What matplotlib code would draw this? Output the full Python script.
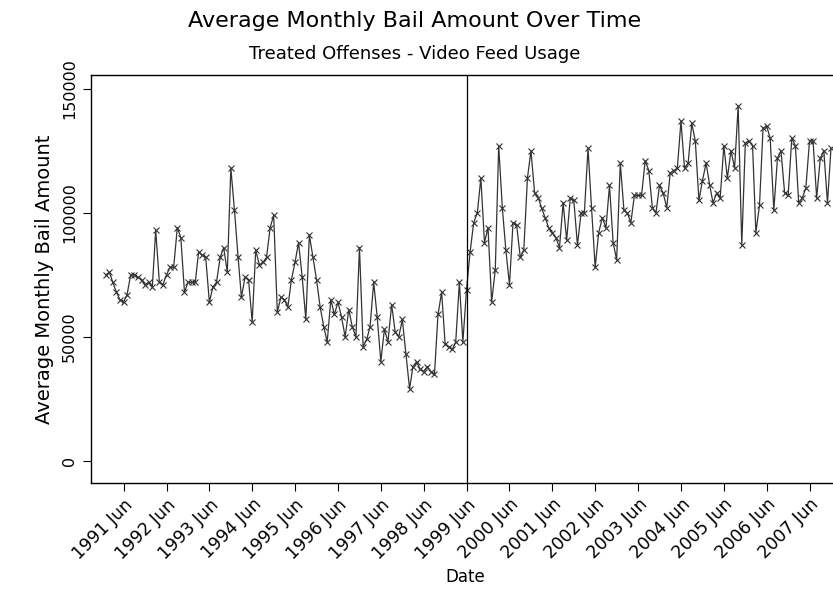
import matplotlib
matplotlib.use("Agg")
import matplotlib.pyplot as plt
import pandas as pd

# monthly averages, Jan 1991 - Dec 2007
bail_1991_1994 = [
    75000, 76000, 72000, 68000, 65000, 64000, 67000, 75000, 75000, 74000, 73000, 71000,
    72000, 70000, 93000, 72000, 71000, 75000, 78000, 78000, 94000, 90000, 68000, 72000,
    72000, 72000, 84000, 83000, 82000, 64000, 70000, 72000, 82000, 86000, 76000, 118000,
    101000, 82000, 66000, 74000, 73000, 56000, 85000, 79000, 80000, 82000, 94000, 99000,
]
bail_1995_1998 = [
    60000, 66000, 65000, 62000, 73000, 80000, 88000, 74000, 57000, 91000, 82000, 73000,
    62000, 54000, 48000, 65000, 59000, 64000, 58000, 50000, 61000, 54000, 50000, 86000,
    46000, 49000, 54000, 72000, 58000, 40000, 53000, 48000, 63000, 52000, 50000, 57000,
    43000, 29000, 38000, 40000, 37000, 36000, 38000, 36000, 35000, 59000, 68000, 47000,
]
bail_1999_2002 = [
    46000, 45000, 48000, 72000, 48000, 69000, 84000, 96000, 100000, 114000, 88000, 94000,
    64000, 77000, 127000, 102000, 85000, 71000, 96000, 95000, 82000, 85000, 114000, 125000,
    108000, 106000, 102000, 98000, 94000, 92000, 90000, 86000, 104000, 89000, 106000, 105000,
    87000, 100000, 100000, 126000, 102000, 78000, 92000, 98000, 94000, 111000, 88000, 81000,
]
bail_2003_2007 = [
    120000, 101000, 100000, 96000, 107000, 107000, 107000, 121000, 117000, 102000, 100000, 111000,
    108000, 102000, 116000, 117000, 118000, 137000, 118000, 120000, 136000, 129000, 105000, 113000,
    120000, 111000, 104000, 108000, 106000, 127000, 114000, 125000, 118000, 143000, 87000, 128000,
    129000, 127000, 92000, 103000, 134000, 135000, 130000, 101000, 122000, 125000, 108000, 107000,
    130000, 127000, 104000, 106000, 110000, 129000, 129000, 106000, 122000, 125000, 104000, 126000,
]
bail = bail_1991_1994 + bail_1995_1998 + bail_1999_2002 + bail_2003_2007
dates = pd.date_range("1991-01-01", periods=len(bail), freq="MS")

tick_years = list(range(1991, 2008))
tick_dates = [pd.Timestamp(y, 6, 1) for y in tick_years]
tick_labels = [f"{y} Jun" for y in tick_years]
treatment_date = pd.Timestamp(1999, 6, 1)

fig = plt.figure(figsize=(8.33, 5.89), dpi=100)
ax = fig.add_axes([0.109, 0.18, 0.9, 0.693])

ink = "#333333"
ax.plot(dates, bail, color=ink, lw=0.9, marker="x", ms=5, mew=0.8)
ax.axvline(treatment_date, color="black", lw=0.9)

ax.set_xlim(pd.Timestamp(1990, 8, 26), pd.Timestamp(2008, 2, 20))
ax.set_ylim(-8900, 155600)
ax.set_yticks([0, 50000, 100000, 150000])
ax.set_yticklabels(["0", "50000", "100000", "150000"], rotation=90, va="center",
                   fontsize=11.5)
ax.set_xticks(tick_dates)
ax.set_xticklabels(tick_labels, rotation=45, ha="right", rotation_mode="anchor",
                   fontsize=12.5)
ax.tick_params(direction="out", length=6, width=0.8, colors="black")
ax.tick_params(axis="x", pad=3)
ax.tick_params(axis="y", pad=4)
ax.spines["right"].set_visible(False)
for side in ["left", "bottom", "top"]:
    ax.spines[side].set_linewidth(1.0)

ax.set_xlabel("Date", fontsize=12, labelpad=4)
ax.set_ylabel("Average Monthly Bail Amount", fontsize=14, labelpad=6)

fig.text(0.498, 0.965, "Average Monthly Bail Amount Over Time", ha="center",
         va="center", fontsize=16)
fig.text(0.498, 0.908, "Treated Offenses - Video Feed Usage", ha="center",
         va="center", fontsize=13)

fig.savefig("out.png", dpi=100)
